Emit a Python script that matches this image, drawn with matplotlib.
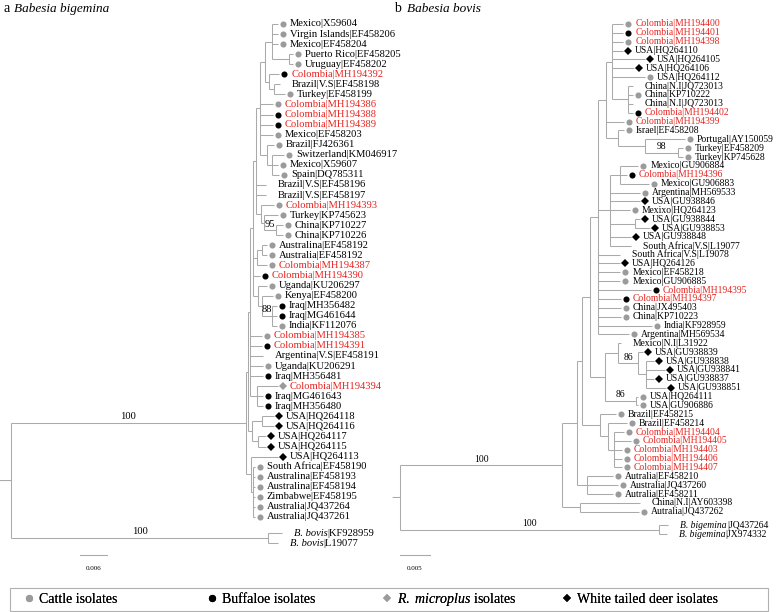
import matplotlib.pyplot as plt
import matplotlib.transforms as mtransforms
from matplotlib.lines import Line2D
from matplotlib.patches import Rectangle

plt.rcParams['font.family'] = ['Liberation Serif', 'DejaVu Serif']
plt.rcParams['mathtext.fontset'] = 'custom'
plt.rcParams['mathtext.rm'] = 'Liberation Serif'
plt.rcParams['mathtext.it'] = 'Liberation Serif:italic'

# ---------------- a: Babesia bigemina ----------------
names_a = ["Mexico|X59604", "Virgin Islands|EF458206", "Mexico|EF458204", "Puerto Rico|EF458205",
           "Uruguay|EF458202", "Colombia|MH194392", "Brazil|V.S|EF458198", "Turkey|EF458199",
           "Colombia|MH194386", "Colombia|MH194388", "Colombia|MH194389", "Mexico|EF458203",
           "Brazil|FJ426361", "Switzerland|KM046917", "Mexico|X59607", "Spain|DQ785311",
           "Brazil|V.S|EF458196", "Brazil|V.S|EF458197", "Colombia|MH194393", "Turkey|KP745623",
           "China|KP710227", "China|KP710226", "Australina|EF458192", "Australia|EF458192",
           "Colombia|MH194387", "Colombia|MH194390", "Uganda|KU206297", "Kenya|EF458200",
           "Iraq|MH356482", "Iraq|MG461644", "India|KF112076", "Colombia|MH194385",
           "Colombia|MH194391", "Argentina|V.S|EF458191", "Uganda|KU206291", "Iraq|MH356481",
           "Colombia|MH194394", "Iraq|MG461643", "Iraq|MH356480", "USA|HQ264118",
           "USA|HQ264116", "USA|HQ264117", "USA|HQ264115", "USA|HQ264113",
           "South Africa|EF458190", "Australina|EF458193", "Australina|EF458194", "Zimbabwe|EF458195",
           "Australia|JQ437264", "Australia|JQ437261",
           "B. bovis|KF928959", "B. bovis|L19077"]
# c = cattle, b = buffaloe, r = R. microplus, d = white tailed deer, - = none
kinds_a = ['c', 'c', 'c', 'c', 'c', 'b', '-', 'c', 'c', 'b',
           'b', 'c', 'c', 'c', 'c', 'c', '-', '-', 'c', 'c',
           'c', 'c', 'c', 'c', 'c', 'b', 'c', 'c', 'b', 'b',
           'c', 'c', 'b', '-', 'c', 'b', 'r', 'b', 'b', 'd',
           'd', 'd', 'd', 'd', 'c', 'c', 'c', 'c', 'c', 'c',
           '-', '-']
tips_a = [0.0593, 0.0593, 0.0593, 0.0627, 0.0627, 0.0596, 0.0598, 0.0609, 0.0582, 0.0582,
          0.0582, 0.0582, 0.0584, 0.0607, 0.0593, 0.0596, 0.0567, 0.0567, 0.0584, 0.0593,
          0.0604, 0.0604, 0.0569, 0.0569, 0.0569, 0.0553, 0.0569, 0.0582, 0.0591, 0.0591,
          0.0591, 0.0558, 0.0558, 0.0560, 0.0560, 0.0560, 0.0593, 0.0560, 0.0560, 0.0584,
          0.0584, 0.0567, 0.0567, 0.0593, 0.0542, 0.0542, 0.0542, 0.0542, 0.0542, 0.0542,
          0.0602, 0.0593]
# (node depth, first leaf, last leaf, support)
clades_a = [(0.0, 0, 51, ''), (0.0522, 0, 49, '100'), (0.0571, 50, 51, '100'),
            (0.0527, 0, 42, ''), (0.0533, 43, 49, ''), (0.0538, 44, 49, ''),
            (0.0531, 0, 38, ''),
            (0.0536, 39, 42, ''), (0.0558, 39, 40, ''), (0.0549, 41, 42, ''),
            (0.0538, 0, 30, ''), (0.0547, 36, 38, ''), (0.0544, 0, 21, ''),
            (0.0547, 22, 24, ''), (0.0558, 22, 23, ''), (0.0549, 26, 30, ''),
            (0.0558, 27, 30, ''), (0.0580, 28, 30, '88'), (0.0553, 0, 15, ''),
            (0.0556, 18, 21, ''), (0.0562, 19, 21, ''), (0.0589, 20, 21, '95'),
            (0.0564, 0, 7, ''), (0.0580, 0, 4, ''), (0.0618, 3, 4, ''),
            (0.0573, 5, 7, ''), (0.0584, 6, 7, ''), (0.0569, 12, 15, ''),
            (0.0580, 13, 15, '')]
n_in_a = 50

# ---------------- b: Babesia bovis ----------------
names_b = ["Colombia|MH194400", "Colombia|MH194401", "Colombia|MH194398", "USA|HQ264110",
           "USA|HQ264105", "USA|HQ264106", "USA|HQ264112", "China|N.I|JQ723013",
           "China|KP710222", "China|N.I|JQ723013", "Colombia|MH194402", "Colombia|MH194399",
           "Israel|EF458208", "Portugal|AY150059", "Turkey|EF458209", "Turkey|KP745628",
           "Mexico|GU906884", "Colombia|MH194396", "Mexico|GU906883", "Argentina|MH569533",
           "USA|GU938846", "Mexixo|HQ264123", "USA|GU938844", "USA|GU938853",
           "USA|GU938848", "South Africa|V.S|L19077", "South Africa|V.S|L19078", "USA|HQ264126",
           "Mexico|EF458218", "Mexico|GU906885", "Colombia|MH194395", "Colombia|MH194397",
           "China|JX495403", "China|KP710223", "India|KF928959", "Argentina|MH569534",
           "Mexico|N.I|L31922", "USA|GU938839", "USA|GU938838", "USA|GU938841",
           "USA|GU938837", "USA|GU938851", "USA|HQ264111", "USA|GU906886",
           "Brazil|EF458215", "Brazil|EF458214", "Colombia|MH194404", "Colombia|MH194405",
           "Colombia|MH194403", "Colombia|MH194406", "Colombia|MH194407", "Autralia|EF458210",
           "Australia|JQ437260", "Autralia|EF458211", "China|N.I|AY603398", "Autralia|JQ437262",
           "B. bigemina|JQ437264", "B. bigemina|JX974332"]
kinds_b = ['c', 'b', 'c', 'd', 'd', 'd', 'c', '-', 'c', '-',
           'b', 'c', 'c', 'c', 'c', 'c', 'c', 'b', 'c', 'c',
           'd', 'c', 'd', 'd', 'd', '-', '-', 'd', 'c', 'c',
           'b', 'b', 'c', 'c', 'c', 'c', '-', 'd', 'd', 'd',
           'd', 'd', 'c', 'c', 'c', 'c', 'c', 'c', 'c', 'c',
           'c', 'c', 'c', 'c', '-', 'c', '-', '-']
tips_b = [0.0372, 0.0372, 0.0372, 0.0372, 0.0408, 0.0390, 0.0408, 0.0388, 0.0388, 0.0388,
          0.0388, 0.0373, 0.0373, 0.0475, 0.0472, 0.0472, 0.0397, 0.0378, 0.0415, 0.0400,
          0.0400, 0.0383, 0.0400, 0.0417, 0.0385, 0.0385, 0.0367, 0.0367, 0.0367, 0.0367,
          0.0418, 0.0368, 0.0368, 0.0368, 0.0420, 0.0382, 0.0368, 0.0405, 0.0423, 0.0442,
          0.0423, 0.0443, 0.0397, 0.0397, 0.0360, 0.0378, 0.0373, 0.0385, 0.0370, 0.0370,
          0.0370, 0.0355, 0.0363, 0.0355, 0.0400, 0.0398, 0.0447, 0.0445]
clades_b = [(0.0, 0, 57, ''), (0.0270, 0, 55, '100'), (0.0432, 56, 57, '100'),
            (0.0295, 0, 53, ''), (0.0300, 54, 55, ''), (0.0303, 0, 50, ''),
            (0.0312, 51, 53, ''), (0.0317, 0, 43, ''), (0.0333, 44, 50, ''),
            (0.0347, 45, 50, ''), (0.0357, 46, 50, ''), (0.0330, 0, 35, ''),
            (0.0342, 36, 43, ''), (0.0363, 36, 41, ''), (0.0397, 37, 41, '86'),
            (0.0410, 38, 41, ''), (0.0393, 42, 43, '86'), (0.0343, 0, 15, ''),
            (0.0353, 0, 10, ''), (0.0380, 7, 10, ''), (0.0363, 12, 15, ''),
            (0.0408, 13, 15, ''), (0.0463, 14, 15, '98'), (0.0350, 16, 25, ''),
            (0.0367, 16, 18, ''), (0.0392, 22, 23, '')]
n_in_b = 56

legend_kinds = ['c', 'b', 'r', 'd']
legend_labels = ["Cattle isolates", "Buffaloe isolates",
                 r"$\it{R.\ microplus}$ isolates", "White tailed deer isolates"]

LINE = '#aaaaaa'
GRAY = '#9b9b9b'
RED = '#e8231f'
marker_style = {'c': ('o', GRAY, 4.4), 'b': ('o', 'black', 4.4),
                'r': ('D', GRAY, 3.6), 'd': ('D', 'black', 3.6)}


def draw_tree(ax, names, kinds, tips, clades, n_in, gap, fs, stub):
    rows = [i if i < n_in else i + gap for i in range(len(names))]
    size = lambda c: c[2] - c[1]
    parent = {}
    for j, c in enumerate(clades):
        best = None
        for k, c2 in enumerate(clades):
            if k != j and c2[1] <= c[1] and c[2] <= c2[2] and size(c2) > size(c):
                if best is None or size(c2) < size(clades[best]):
                    best = k
        parent[j] = best
    kids = {j: [] for j in range(len(clades))}
    for j in range(len(clades)):
        if parent[j] is not None:
            kids[parent[j]].append(('n', j))
    for i in range(len(names)):
        best = None
        for j, c in enumerate(clades):
            if c[1] <= i <= c[2] and (best is None or size(c) < size(clades[best])):
                best = j
        kids[best].append(('l', i))

    def start(kd):
        return clades[kd[1]][1] if kd[0] == 'n' else kd[1]

    node_y = {}
    for j in sorted(range(len(clades)), key=lambda j: size(clades[j])):
        kids[j].sort(key=start)
        ys = [node_y[k[1]] if k[0] == 'n' else rows[k[1]] for k in kids[j]]
        node_y[j] = (ys[0] + ys[-1]) / 2

    for j, c in enumerate(clades):
        d = c[0]
        ys = []
        for k in kids[j]:
            if k[0] == 'n':
                y, d2 = node_y[k[1]], clades[k[1]][0]
            else:
                y, d2 = rows[k[1]], tips[k[1]]
            ys.append(y)
            ax.plot([d, d2], [y, y], color=LINE, lw=0.75, solid_capstyle='butt')
        ax.plot([d, d], [min(ys), max(ys)], color=LINE, lw=0.75, solid_capstyle='butt')
        if c[3]:
            pd = clades[parent[j]][0]
            ax.annotate(c[3], ((pd + d) / 2, node_y[j]), xytext=(0, 1.2),
                        textcoords='offset points', ha='center', va='bottom', fontsize=fs)
        if parent[j] is None:
            # short stub to the left of the root
            ax.annotate('', xy=(d, node_y[j]), xytext=(-stub * 0.72, 0),
                        textcoords='offset points',
                        arrowprops=dict(arrowstyle='-', color=LINE, lw=0.75,
                                        shrinkA=0, shrinkB=0))

    mk_tr = mtransforms.offset_copy(ax.transData, fig=ax.figure, x=5, units='dots')
    tx_tr = mtransforms.offset_copy(ax.transData, fig=ax.figure, x=12, units='dots')
    for i, name in enumerate(names):
        k = kinds[i]
        if k in marker_style:
            m, col, ms = marker_style[k]
            ax.plot(tips[i], rows[i], marker=m, color=col, ms=ms, mew=0, transform=mk_tr)
        if name.startswith('B. '):
            species, acc = name.split('|', 1)
            t1 = ax.text(tips[i], rows[i], species, transform=tx_tr, ha='left',
                         va='center', fontsize=fs, style='italic')
            ax.annotate('|' + acc, xy=(1, 0), xycoords=t1, ha='left', va='bottom',
                        fontsize=fs)
        else:
            col = RED if name.startswith('Colombia') else 'black'
            ax.text(tips[i], rows[i], name, transform=tx_tr, ha='left', va='center',
                    fontsize=fs, color=col)


W, H = 778, 612
fig = plt.figure(figsize=(W / 100, H / 100), dpi=100)

# panel a: root at 11 px, 4500 px per substitution unit, rows 10.06 px from y=24
ax_a = fig.add_axes([0, 0, 1, 1])
ax_a.set_xlim(-11 / 4500, (W - 11) / 4500)
ax_a.set_ylim((H - 24) / 10.06, -24 / 10.06)
ax_a.axis('off')
draw_tree(ax_a, names_a, kinds_a, tips_a, clades_a, n_in_a, 0.6, 7.6, 11)

# panel b: root at 400 px, 6000 px per unit, rows 8.87 px
ax_b = fig.add_axes([0, 0, 1, 1])
ax_b.set_xlim(-400 / 6000, (W - 400) / 6000)
ax_b.set_ylim((H - 24) / 8.87, -24 / 8.87)
ax_b.axis('off')
draw_tree(ax_b, names_b, kinds_b, tips_b, clades_b, n_in_b, 0.5, 6.9, 7)

# scale bars
for ax, x0, length in [(ax_a, 69 / 4500, 0.006), (ax_b, 0.0, 0.005)]:
    tr = mtransforms.blended_transform_factory(ax.transData, fig.transFigure)
    ax.plot([x0, x0 + length], [1 - 555 / H] * 2, color=LINE, lw=0.8, transform=tr)
    ax.text(x0 + length / 2, 1 - 569 / H, str(length), transform=tr, ha='center',
            va='center', fontsize=5)

# panel titles
fig.text(3 / W, 1 - 9 / H, 'a', fontsize=10, va='center')
fig.text(14 / W, 1 - 9 / H, 'Babesia bigemina', fontsize=9.5, style='italic', va='center')
fig.text(394 / W, 1 - 9 / H, 'b', fontsize=10, va='center')
fig.text(407 / W, 1 - 9 / H, 'Babesia bovis', fontsize=9.5, style='italic', va='center')

# legend box across the bottom, one evenly spaced entry per host
fig.patches.append(Rectangle((10 / W, 1 / H), 758 / W, 23 / H, transform=fig.transFigure,
                             facecolor='white', edgecolor='#b0b0b0', lw=0.8))
for pos, k, lab in zip([23, 206, 381, 561], legend_kinds, legend_labels):
    h = Line2D([], [], ls='', marker=marker_style[k][0], color=marker_style[k][1],
               ms=marker_style[k][2] + 0.8, mew=0)
    leg = fig.legend([h], [lab], loc='center left', bbox_to_anchor=(pos / W, 12.5 / H),
                     borderaxespad=0, borderpad=0, fontsize=10, handlelength=0.8,
                     handletextpad=0.35, frameon=False)
    fig.add_artist(leg)

fig.savefig('out.png', dpi=100)
